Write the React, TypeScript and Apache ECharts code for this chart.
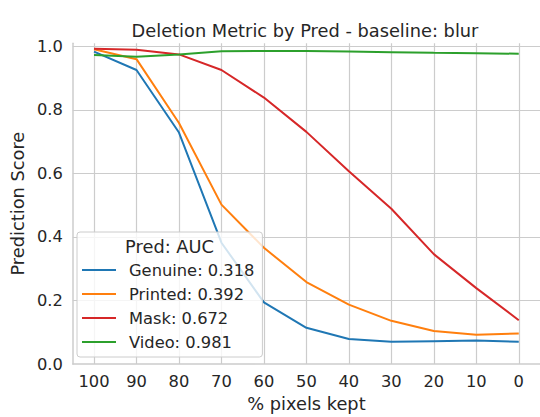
import React, { useEffect, useRef } from "react";
import * as echarts from "echarts";

const pixelsKept = [100, 90, 80, 70, 60, 50, 40, 30, 20, 10, 0];
const genuine = [0.984, 0.926, 0.729, 0.382, 0.194, 0.114, 0.079, 0.07, 0.072, 0.074, 0.07];
const printed = [0.991, 0.96, 0.759, 0.502, 0.366, 0.258, 0.187, 0.136, 0.104, 0.092, 0.096];
const mask = [0.993, 0.99, 0.975, 0.926, 0.839, 0.731, 0.607, 0.489, 0.346, 0.239, 0.138];
const video = [0.973, 0.968, 0.975, 0.985, 0.986, 0.986, 0.984, 0.982, 0.98, 0.979, 0.977];
const classNames = ["Genuine", "Printed", "Mask", "Video"];
const aucValues = [0.318, 0.392, 0.672, 0.981];
const seriesValues = [genuine, printed, mask, video];
const colors = ["#1f77b4", "#ff7f0e", "#d62728", "#2ca02c"];

const FONT = "DejaVu Sans";
const TEXT = "#262626";
const GRID = "#cccccc";
const TICK_FS = 16.3;
const LABEL_FS = 17.8;

export default function App() {
  const ref = useRef<HTMLDivElement>(null);
  useEffect(() => {
    if (!ref.current) return;
    const chart = echarts.init(ref.current, undefined, { renderer: "svg" });
    const names = classNames.map((c, i) => `${c}: ${aucValues[i].toFixed(3)}`);
    chart.setOption({
      animation: false,
      backgroundColor: "#ffffff",
      grid: { left: 68, right: -3, top: 43.3, bottom: 52, containLabel: false },
      xAxis: {
        type: "value",
        inverse: true,
        min: -5,
        max: 105,
        splitNumber: 11,
        minInterval: 10,
        maxInterval: 10,
        name: "% pixels kept",
        nameLocation: "middle",
        nameGap: 30,
        nameTextStyle: { fontFamily: FONT, fontSize: LABEL_FS, color: TEXT },
        axisLine: { show: true, onZero: false, lineStyle: { color: GRID, width: 1.5 } },
        axisTick: { show: false },
        axisLabel: {
          fontFamily: FONT,
          fontSize: TICK_FS,
          color: TEXT,
          margin: 9,
          showMinLabel: false,
          showMaxLabel: false,
          formatter: (v: number) => (v < 0 || v > 100 ? "" : String(v)),
        },
        splitLine: { show: true, showMinLine: false, showMaxLine: false, lineStyle: { color: GRID, width: 1.2 } },
      },
      yAxis: {
        type: "value",
        min: 0,
        max: 1.01,
        interval: 0.2,
        name: "Prediction Score",
        nameLocation: "middle",
        nameGap: 42,
        nameTextStyle: { fontFamily: FONT, fontSize: LABEL_FS, color: TEXT },
        axisLine: { show: true, onZero: false, lineStyle: { color: GRID, width: 1.5 } },
        axisTick: { show: false },
        axisLabel: {
          fontFamily: FONT,
          fontSize: TICK_FS,
          color: TEXT,
          margin: 10,
          showMaxLabel: false,
          formatter: (v: number) => (v > 1.0001 ? "" : v.toFixed(1)),
        },
        splitLine: { show: true, showMinLine: false, showMaxLine: false, lineStyle: { color: GRID, width: 1.2 } },
      },
      legend: {
        orient: "vertical",
        left: 77,
        top: 232,
        padding: [30, 8, 7, 5],
        icon: "rect",
        itemWidth: 34,
        itemHeight: 2,
        itemGap: 8,
        backgroundColor: "rgba(255,255,255,0.8)",
        borderColor: GRID,
        borderWidth: 1,
        borderRadius: 3,
        textStyle: { fontFamily: FONT, fontSize: TICK_FS, color: TEXT, lineHeight: 16, padding: [0, 0, 0, 8] },
        data: names,
      },
      graphic: [
        {
          type: "text",
          x: 305,
          y: 30,
          z: 100,
          style: {
            text: "Deletion Metric by Pred - baseline: blur",
            fontFamily: FONT,
            fontSize: LABEL_FS,
            fill: TEXT,
            align: "center",
            verticalAlign: "middle",
          },
        },
        {
          type: "text",
          x: 169.5,
          y: 246,
          z: 100,
          style: {
            text: "Pred: AUC",
            fontFamily: FONT,
            fontSize: LABEL_FS,
            fill: TEXT,
            align: "center",
            verticalAlign: "middle",
          },
        },
      ],
      series: seriesValues.map((vals, i) => ({
        type: "line",
        name: names[i],
        data: pixelsKept.map((x, j) => [x, vals[j]]),
        symbol: "none",
        color: colors[i],
        lineStyle: { width: 2, color: colors[i] },
        z: 2 + i,
      })),
    });
    return () => chart.dispose();
  }, []);
  return (
    <div
      ref={ref}
      style={{ position: "fixed", left: 0, top: 0, width: 540, height: 417 }}
    />
  );
}
